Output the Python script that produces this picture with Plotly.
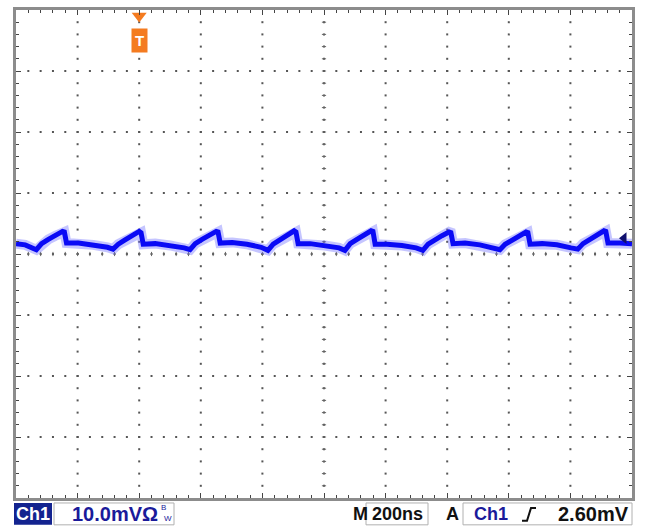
import numpy as np
import plotly.graph_objects as go

# ---- data (time in ns, voltage in mV) ----
t_ns = [-400, -370,
        -334, -317, -295, -272, -249, -243, -236, -197, -149, -103,
        -85, -68, -46, -23, 0, 6, 13, 52, 100, 146,
        165, 182, 204, 227, 250, 256, 263, 302, 350, 396,
        418, 435, 457, 480, 503, 509, 516, 555, 603, 649,
        668, 685, 707, 730, 753, 759, 766, 805, 853, 899,
        921, 938, 960, 983, 1006, 1012, 1019, 1058, 1106, 1152,
        1171, 1188, 1210, 1233, 1256, 1262, 1269, 1308, 1356, 1402,
        1424, 1441, 1463, 1486, 1509, 1515, 1522, 1561, 1600]
v_mV = [1.7, 1.5,
        0.7, 1.7, 2.4, 3.0, 3.7, 3.6, 1.8, 1.8, 1.5, 1.1,
        0.8, 1.6, 2.3, 3.0, 3.7, 3.5, 1.6, 1.7, 1.4, 1.0,
        0.7, 1.7, 2.4, 3.1, 3.7, 3.6, 1.8, 1.9, 1.6, 1.1,
        0.6, 1.6, 2.3, 3.0, 3.8, 3.6, 1.7, 1.7, 1.4, 1.0,
        0.6, 1.7, 2.4, 3.1, 3.8, 3.7, 1.6, 1.6, 1.4, 1.0,
        0.6, 1.6, 2.4, 3.0, 3.6, 3.5, 1.7, 1.8, 1.5, 1.0,
        0.7, 1.6, 2.3, 3.0, 3.6, 3.5, 1.6, 1.7, 1.5, 1.0,
        0.8, 1.7, 2.4, 3.1, 3.8, 3.7, 1.8, 1.8, 1.7]

x_range = [-400, 1600]    # 10 div x 200 ns
y_range = [-40, 40]       # 8 div x 10 mV
time_div = 200
volt_div = 10
trig_time = 0
trig_level = 2.60

label_ch = "Ch1"
label_scale = "10.0mVΩ"
label_time = "200ns"
label_trig = "2.60mV"

fig = go.Figure()

# ---- graticule dots ----
gx, gy = [], []
for xv in np.arange(x_range[0] + time_div, x_range[1], time_div):
    for yv in np.arange(y_range[0] + 2, y_range[1], 2):
        gx.append(xv); gy.append(yv)
for yv in np.arange(y_range[0] + volt_div, y_range[1], volt_div):
    for xv in np.arange(x_range[0] + 40, x_range[1], 40):
        gx.append(xv); gy.append(yv)
fig.add_trace(go.Scatter(x=gx, y=gy, mode="markers",
                         marker=dict(symbol="square", size=2, color="#555555", line=dict(width=0)),
                         hoverinfo="skip"))
# center crosshair ticks
cx = list(np.arange(x_range[0] + 40, x_range[1], 40))
fig.add_trace(go.Scatter(x=cx, y=[0] * len(cx), mode="markers",
                         marker=dict(symbol="line-ns", size=3, line=dict(width=1, color="#666666")),
                         hoverinfo="skip"))
cy = list(np.arange(y_range[0] + 2, y_range[1], 2))
fig.add_trace(go.Scatter(x=[600] * len(cy), y=cy, mode="markers",
                         marker=dict(symbol="line-ew", size=3, line=dict(width=1, color="#666666")),
                         hoverinfo="skip"))

# ---- waveform ----
fig.add_trace(go.Scatter(x=t_ns, y=v_mV, mode="lines",
                         line=dict(color="rgba(110,110,255,0.40)", width=10), hoverinfo="skip"))
fig.add_trace(go.Scatter(x=t_ns, y=v_mV, mode="lines",
                         line=dict(color="#0a0af5", width=5), hoverinfo="skip"))

# ---- markers: ground, trigger level, trigger position ----
fig.add_trace(go.Scatter(x=[x_range[0] - 12], y=[0], mode="markers", cliponaxis=False,
                         marker=dict(symbol="triangle-right", size=7, color="#1a1aa0"),
                         hoverinfo="skip"))
fig.add_trace(go.Scatter(x=[1574], y=[trig_level], mode="markers", cliponaxis=False,
                         marker=dict(symbol="triangle-left", size=10, color="#10106e"),
                         hoverinfo="skip"))
fig.add_trace(go.Scatter(x=[trig_time], y=[39.0], mode="markers", cliponaxis=False,
                         marker=dict(symbol="triangle-down", size=13, color="#f47b20"),
                         hoverinfo="skip"))
fig.add_annotation(x=trig_time, xref="x", y=(498 - 25) / 491, yref="paper",
                   text="<b>T</b>", showarrow=False, bgcolor="#f47b20", borderpad=3,
                   font=dict(family="Liberation Sans", size=15, color="white"))

# ---- bottom status bar ----
def px_x(p):
    return (p - 16) / 616.0

def px_y(p):
    return (498 - p) / 491.0

shapes = [
    dict(type="rect", xref="paper", yref="paper", x0=px_x(14), x1=px_x(52), y0=px_y(525), y1=px_y(503),
         fillcolor="#13238f", line=dict(width=0)),
    dict(type="rect", xref="paper", yref="paper", x0=px_x(54), x1=px_x(174), y0=px_y(525), y1=px_y(503),
         fillcolor="white", line=dict(width=1, color="#b0b0b0")),
    dict(type="rect", xref="paper", yref="paper", x0=px_x(366), x1=px_x(428), y0=px_y(525), y1=px_y(503),
         fillcolor="white", line=dict(width=1, color="#b0b0b0")),
    dict(type="rect", xref="paper", yref="paper", x0=px_x(463), x1=px_x(632), y0=px_y(525), y1=px_y(503),
         fillcolor="white", line=dict(width=1, color="#b0b0b0")),
    dict(type="path", xref="paper", yref="paper",
         path=f"M {px_x(522)} {px_y(521)} L {px_x(527)} {px_y(521)} L {px_x(531)} {px_y(508)} L {px_x(536)} {px_y(508)}",
         line=dict(width=2, color="#111111")),
]
fig.update_layout(shapes=shapes)

fnt = "Liberation Sans"
def txt(p_x, text, color, anchor="center", size=18, bold=True):
    fig.add_annotation(x=px_x(p_x), y=px_y(514), xref="paper", yref="paper", text=(f"<b>{text}</b>" if bold else text),
                       showarrow=False, xanchor=anchor, yanchor="middle",
                       font=dict(family=fnt, size=size, color=color))

txt(33, label_ch, "white", size=18)
txt(70, label_scale, "#1a1a9a", anchor="left", size=20)
fig.add_annotation(x=px_x(159), y=px_y(508), xref="paper", yref="paper", text="B", showarrow=False,
                   xanchor="left", yanchor="middle", font=dict(family=fnt, size=8, color="#1a1a9a"))
fig.add_annotation(x=px_x(162), y=px_y(519), xref="paper", yref="paper", text="W", showarrow=False,
                   xanchor="left", yanchor="middle", font=dict(family=fnt, size=8, color="#1a1a9a"))
txt(360, "M", "#111111", size=18)
txt(397, label_time, "#111111", size=18)
txt(452, "A", "#111111", size=18)
txt(491, label_ch, "#1a1a9a", size=18)
txt(631, label_trig, "#111111", anchor="right", size=20)

axis_common = dict(showline=True, linecolor="#8c8c8c", linewidth=3, mirror="allticks",
                   ticks="inside", ticklen=5, tickcolor="#444444", tickwidth=1,
                   showticklabels=False, showgrid=False, zeroline=False, fixedrange=True)
fig.update_xaxes(range=x_range, tick0=x_range[0], dtick=time_div,
                 minor=dict(ticks="inside", ticklen=3, dtick=40, tickcolor="#444444", showgrid=False),
                 **axis_common)
fig.update_yaxes(range=y_range, tick0=y_range[0], dtick=volt_div,
                 minor=dict(ticks="inside", ticklen=3, dtick=2, tickcolor="#444444", showgrid=False),
                 **axis_common)

fig.update_layout(width=646, height=529, margin=dict(l=16, r=14, t=7, b=31),
                  paper_bgcolor="white", plot_bgcolor="white", showlegend=False)

fig.write_html("out.html", config={"displayModeBar": False},
               post_script="document.body.style.margin='0px';document.body.style.overflow='hidden';")
